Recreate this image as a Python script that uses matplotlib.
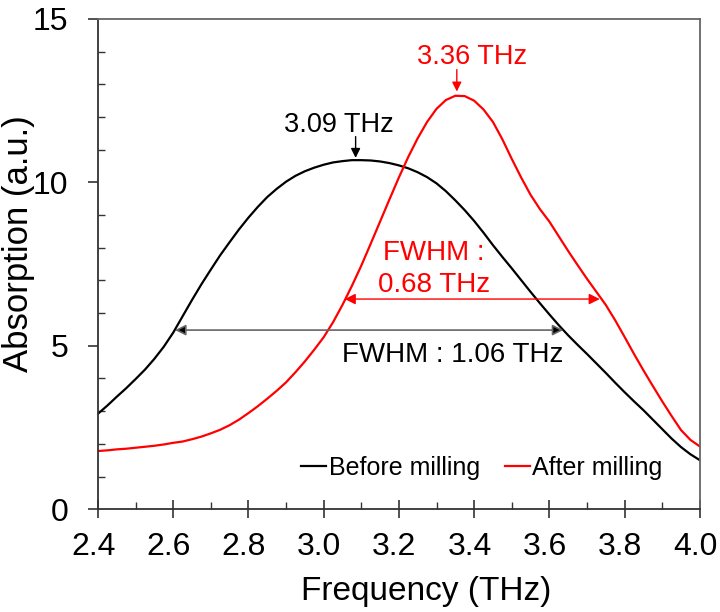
import matplotlib
matplotlib.use('Agg')
import matplotlib.pyplot as plt
import matplotlib.transforms as mtransforms
from matplotlib.ticker import MultipleLocator

plt.rcParams['font.family'] = ['Liberation Sans', 'DejaVu Sans']

# before milling (black), read every 0.025 THz
freq_before = [2.400, 2.425, 2.450, 2.475, 2.500, 2.525, 2.550, 2.575, 2.600, 2.625,
               2.650, 2.675, 2.700, 2.725, 2.750, 2.775, 2.800, 2.825, 2.850, 2.875,
               2.900, 2.925, 2.950, 2.975, 3.000, 3.025, 3.050, 3.075, 3.100, 3.125,
               3.150, 3.175, 3.200, 3.225, 3.250, 3.275, 3.300, 3.325, 3.350, 3.375,
               3.400, 3.425, 3.450, 3.475, 3.500, 3.525, 3.550, 3.575, 3.600, 3.625,
               3.650, 3.675, 3.700, 3.725, 3.750, 3.775, 3.800, 3.825, 3.850, 3.875,
               3.900, 3.925, 3.950, 3.975, 4.000]
abs_before = [2.92, 3.17, 3.44, 3.70, 3.98, 4.27, 4.60, 4.97, 5.40, 5.90,
              6.40, 6.88, 7.33, 7.77, 8.17, 8.56, 8.92, 9.25, 9.55, 9.80,
              10.02, 10.20, 10.34, 10.45, 10.54, 10.61, 10.65, 10.68, 10.68, 10.67,
              10.64, 10.59, 10.52, 10.43, 10.31, 10.16, 9.97, 9.73, 9.45, 9.15,
              8.82, 8.46, 8.08, 7.72, 7.37, 7.01, 6.65, 6.30, 5.96, 5.63,
              5.32, 5.03, 4.75, 4.46, 4.17, 3.87, 3.58, 3.30, 3.03, 2.74,
              2.45, 2.16, 1.90, 1.68, 1.50]

# after milling (red)
freq_after = freq_before
abs_after = [1.78, 1.80, 1.83, 1.85, 1.88, 1.91, 1.94, 1.98, 2.03, 2.07,
             2.14, 2.22, 2.32, 2.43, 2.57, 2.74, 2.94, 3.15, 3.38, 3.62,
             3.88, 4.19, 4.52, 4.88, 5.26, 5.72, 6.25, 6.83, 7.45, 8.12,
             8.80, 9.48, 10.15, 10.78, 11.35, 11.85, 12.25, 12.52, 12.65, 12.64,
             12.50, 12.23, 11.85, 11.32, 10.72, 10.15, 9.62, 9.18, 8.80, 8.35,
             7.90, 7.47, 7.05, 6.65, 6.25, 5.78, 5.27, 4.75, 4.25, 3.77,
             3.30, 2.85, 2.42, 2.12, 1.92]

peak_before = 3.09
peak_after = 3.36
fwhm_before = (2.605, 3.637, 5.48)
fwhm_after = (3.056, 3.734, 6.43)

fig = plt.figure(figsize=(7.2, 6.12), dpi=100)
ax = fig.add_axes([0.136, 0.168, 0.836, 0.801])

ax.plot(freq_before, abs_before, color='black', lw=1.6, label='Before milling')
ax.plot(freq_after, abs_after, color='red', lw=1.6, label='After milling')

ax.set_xlim(2.4, 4.0)
ax.set_ylim(0, 15)
ax.xaxis.set_minor_locator(MultipleLocator(0.1))
ax.yaxis.set_major_locator(MultipleLocator(5))
ax.yaxis.set_minor_locator(MultipleLocator(1))
ax.set_xticks([2.4, 2.6, 2.8, 3.0, 3.2, 3.4, 3.6, 3.8, 4.0])
ax.set_xticklabels(['2.4', '2.6', '2.8', '3.0', '3.2', '3.4', '3.6', '3.8', '4.0'])

ax.tick_params(axis='x', which='major', direction='inout', length=12.5, width=1.2,
               labelsize=23, pad=10, color='#333333')
ax.tick_params(axis='y', which='major', direction='out', length=7.5, width=1.2,
               labelsize=23, pad=14, color='#333333')
ax.tick_params(which='minor', direction='in', length=5, width=1.0, color='#333333')

# x tick labels sit a little left of their ticks in the original
shift = mtransforms.ScaledTranslation(-4.5 / 100, 0, fig.dpi_scale_trans)
for lab in ax.get_xticklabels():
    lab.set_transform(lab.get_transform() + shift)

for s in ['left', 'bottom']:
    ax.spines[s].set_color('#333333')
    ax.spines[s].set_linewidth(1.3)
for s in ['top', 'right']:
    ax.spines[s].set_color('#666666')
    ax.spines[s].set_linewidth(1.3)

ax.set_xlabel('Frequency (THz)', fontsize=24)
ax.set_ylabel('Absorption (a.u.)', fontsize=25)
ax.xaxis.set_label_coords(0.545, -0.137)
ax.yaxis.set_label_coords(-0.105, 0.541)

# peak markers
ax.annotate('', xy=(3.085, 10.75), xytext=(3.085, 11.4),
            arrowprops=dict(arrowstyle='-|>', color='black', lw=1, mutation_scale=14,
                            shrinkA=0, shrinkB=0))
ax.text(3.04, 11.75, '%.2f THz' % peak_before, fontsize=19.5, ha='center', va='center')

ax.annotate('', xy=(3.354, 12.78), xytext=(3.354, 13.45),
            arrowprops=dict(arrowstyle='-|>', color='red', lw=1, mutation_scale=14,
                            shrinkA=0, shrinkB=0))
ax.text(3.394, 13.85, '%.2f THz' % peak_after, fontsize=19.5, ha='center', va='center',
        color='red')

# FWHM arrows
ax.annotate('', xy=(fwhm_before[0], fwhm_before[2]), xytext=(fwhm_before[1], fwhm_before[2]),
            arrowprops=dict(arrowstyle='<|-|>', ec='#666666', fc='black', lw=1.2,
                            mutation_scale=16, shrinkA=0, shrinkB=0))
ax.text(3.344, 4.72, 'FWHM : 1.06 THz', fontsize=20, ha='center', va='center')

ax.annotate('', xy=(fwhm_after[0], fwhm_after[2]), xytext=(fwhm_after[1], fwhm_after[2]),
            arrowprops=dict(arrowstyle='<|-|>', color='red', lw=1,
                            mutation_scale=16, shrinkA=0, shrinkB=0))
ax.text(3.293, 7.84, 'FWHM :', fontsize=20, ha='center', va='center', color='red')
ax.text(3.293, 6.86, '0.68 THz', fontsize=20, ha='center', va='center', color='red')

ax.legend(loc='center', bbox_to_anchor=(0.638, 0.084), ncol=2, frameon=False,
          fontsize=18, handlelength=1.0, handletextpad=0.1, columnspacing=1.0,
          borderpad=0)

plt.savefig('out.png', dpi=100)
